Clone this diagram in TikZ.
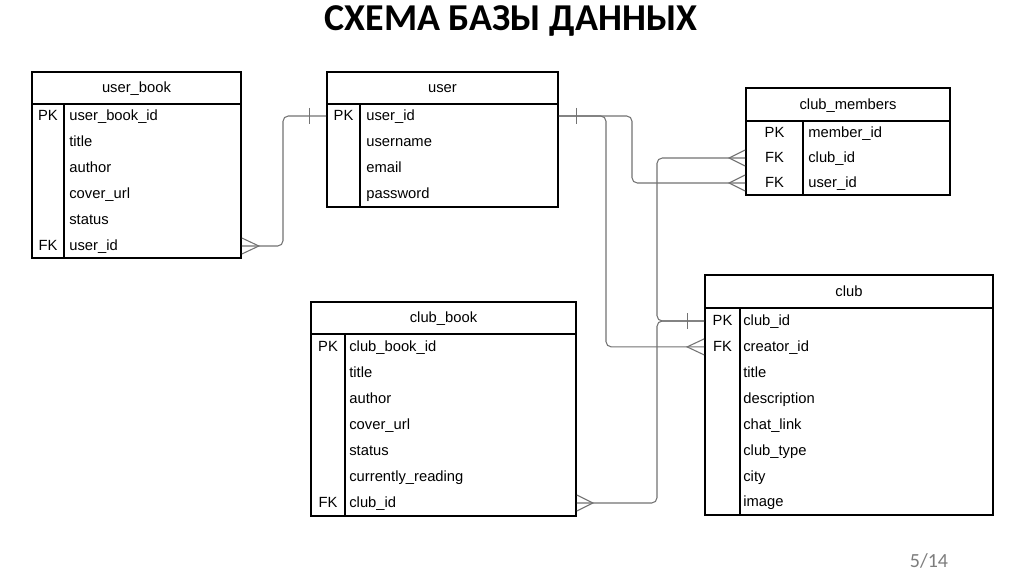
\documentclass[tikz,border=0pt]{standalone}
\usepackage{fontspec}
\setmainfont{Liberation Sans}
\newfontfamily\tituloFont{Carlito}
\usetikzlibrary{calc,fit}
\definecolor{lineaGris}{RGB}{115,115,115}
\definecolor{numGris}{RGB}{125,125,125}
\tikzset{
  tabla/.style={draw=black, line width=1pt, inner sep=0pt},
  campo/.style={anchor=mid west, inner sep=0pt, font=\fontsize{8.4}{10}\selectfont},
  clave/.style={anchor=mid, inner sep=0pt, font=\fontsize{8.4}{10}\selectfont},
  cabecera/.style={anchor=mid, inner sep=0pt, font=\fontsize{8.4}{10}\selectfont},
  rel/.style={draw=lineaGris, line width=0.6pt, rounded corners=3pt},
  pata/.style={draw=lineaGris, line width=0.6pt}
}

\begin{document}
\begin{tikzpicture}[x=0.02cm, y=-0.02cm]
  \fill[white] (0,0) rectangle (1024,574);
  \useasboundingbox (0,0) rectangle (1024,574);
  \node[anchor=base, font=\tituloFont\bfseries\fontsize{21.6}{24}\selectfont]
    (titulo) at (511,31) {СХЕМА БАЗЫ ДАННЫХ};
  \node[anchor=base, numGris, font=\tituloFont\fontsize{11.4}{13}\selectfont]
    (pagina) at (929,567) {5/14};

  % user_book
  \node[tabla, fit={(32,72) (241,258)}] (ub) {};
  \draw[line width=1pt] (32,104) -- (241,104) (64,104) -- (64,258);
  \node[cabecera] (ubH) at (136.5,88) {user\_book};
  \foreach \n/\t [count=\i from 0] in {ub1/user\_book\_id, ub2/title,
      ub3/author, ub4/cover\_url, ub5/status, ub6/user\_id}
    \node[campo] (\n) at (69,116+26*\i) {\t};
  \node[clave] (ubPK) at (48,116) {PK};
  \node[clave] (ubFK) at (48,246) {FK};

  % user
  \node[tabla, fit={(327,72) (558,207)}] (u) {};
  \draw[line width=1pt] (327,104) -- (558,104) (360,104) -- (360,207);
  \node[cabecera] (uH) at (442.5,88) {user};
  \foreach \n/\t [count=\i from 0] in {u1/user\_id, u2/username,
      u3/email, u4/password}
    \node[campo] (\n) at (366,116+26*\i) {\t};
  \node[clave] (uPK) at (343.5,116) {PK};

  % club_members
  \node[tabla, fit={(746,88) (950,195)}] (cm) {};
  \draw[line width=1pt] (746,121) -- (950,121) (803,121) -- (803,195);
  \node[cabecera] (cmH) at (848,104.5) {club\_members};
  \foreach \n/\t [count=\i from 0] in {cm1/member\_id, cm2/club\_id,
      cm3/user\_id}
    \node[campo] (\n) at (808,133+25*\i) {\t};
  \node[clave] (cmPK) at (774.5,133) {PK};
  \node[clave] (cmFK1) at (774.5,158) {FK};
  \node[clave] (cmFK2) at (774.5,183) {FK};

  % club
  \node[tabla, fit={(705,275) (993,515)}] (c) {};
  \draw[line width=1pt] (705,308) -- (993,308) (740,308) -- (740,515);
  \node[cabecera] (cH) at (849,291.5) {club};
  \foreach \n/\t [count=\i from 0] in {c1/club\_id, c2/creator\_id,
      c3/title, c4/description, c5/chat\_link, c6/club\_type, c7/city,
      c8/image}
    \node[campo] (\n) at (743,321+25.9*\i) {\t};
  \node[clave] (cPK) at (722.5,321) {PK};
  \node[clave] (cFK) at (722.5,346.9) {FK};

  % club_book
  \node[tabla, fit={(311,302) (576,516)}] (cb) {};
  \draw[line width=1pt] (311,334) -- (576,334) (345,334) -- (345,516);
  \node[cabecera] (cbH) at (443.5,318) {club\_book};
  \foreach \n/\t [count=\i from 0] in {cb1/club\_book\_id, cb2/title,
      cb3/author, cb4/cover\_url, cb5/status, cb6/currently\_reading,
      cb7/club\_id}
    \node[campo] (\n) at (349,347+26*\i) {\t};
  \node[clave] (cbPK) at (328,347) {PK};
  \node[clave] (cbFK) at (328,503) {FK};

  % relaciones
  \draw[rel] (u.west |- u1.mid) -- (283,116) -- (283,246) -- (ub.east |- ub6.mid);
  \draw[rel] (u.east |- u1.mid) -- (606,116) -- (606,346.9) -- (c.west |- c2.mid);
  \draw[rel] (u.east |- u1.mid) -- (632,116) -- (632,183) -- (cm.west |- cm3.mid);
  \draw[rel] (c.west |- c1.mid) -- (657,321) -- (657,158) -- (cm.west |- cm2.mid);
  \draw[rel] (c.west |- c1.mid) -- (657,321) -- (657,503) -- (cb.east |- cb7.mid);
  % uno
  \draw[pata] ($(u.west |- u1.mid)+(-17,-8)$) -- ++(0,16);
  \draw[pata] ($(u.east |- u1.mid)+(18,-8)$) -- ++(0,16);
  \draw[pata] ($(c.west |- c1.mid)+(-17,-8)$) -- ++(0,16);
  % muchos
  \draw[pata] ($(ub.east |- ub6.mid)+(0,-8)$) -- ++(17,8) -- ++(-17,8);
  \draw[pata] ($(cm.west |- cm2.mid)+(0,-8)$) -- ++(-16,8) -- ++(16,8);
  \draw[pata] ($(cm.west |- cm3.mid)+(0,-8)$) -- ++(-16,8) -- ++(16,8);
  \draw[pata] ($(c.west |- c2.mid)+(0,-8)$) -- ++(-17,8) -- ++(17,8);
  \draw[pata] ($(cb.east |- cb7.mid)+(0,-8)$) -- ++(16,8) -- ++(-16,8);
\end{tikzpicture}
\end{document}
